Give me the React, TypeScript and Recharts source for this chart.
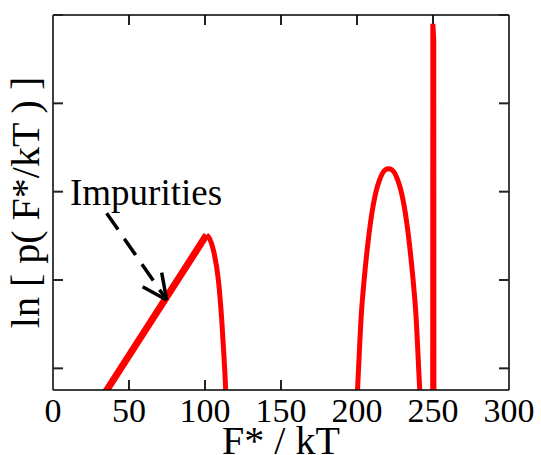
import React from 'react';
import { LineChart, Line, XAxis, YAxis, ReferenceLine, Label } from 'recharts';

// Ascending "impurities" branch (straight)
const impurityX = [33, 101];
const impurityY = [-0.31, 1.51];

// First peak, falling side
const fallX = [101, 103, 105.5, 108.8, 111, 112.5, 113.6, 114.3];
const fallY = [1.51, 1.47, 1.34, 1.0, 0.55, 0.13, -0.245, -0.6];

// Second peak
const peak2X = [199.3, 200.8, 202.8, 204.8, 206.8, 208.8, 210.8, 212.8, 214.8, 216.8, 218.8, 220.8, 222.8, 224.8, 226.8, 228.8, 230.8, 232.8, 234.8, 236.8, 238.8, 240.8, 242.3];
const peak2Y = [-0.6, -0.08, 0.6, 1.02, 1.36, 1.64, 1.86, 2.02, 2.13, 2.21, 2.25, 2.26, 2.25, 2.21, 2.13, 2.02, 1.86, 1.64, 1.36, 1.02, 0.6, -0.08, -0.6];

// Narrow spike near 250
const spikeX = [249.8, 249.9, 250.5, 250.6];
const spikeY = [-0.6, 3.9, 3.72, -0.6];

// Tick values
const xTicks = [0, 50, 100, 150, 200, 250, 300];
const yTicks = [0, 1, 2, 3, 4];

// Annotation arrow (data coordinates)
const arrowStart = { x: 35.3, y: 1.757 };
const arrowTip = { x: 74.8, y: 0.774 };
const arrowArm1 = { x: 59.0, y: 0.924 };
const arrowArm2 = { x: 71.5, y: 1.083 };

const zip = (xs: number[], ys: number[]) => xs.map((x, i) => ({ x, y: ys[i] }));

const impurity = zip(impurityX, impurityY);
const fall = zip(fallX, fallY);
const peak2 = zip(peak2X, peak2Y);
const spike = zip(spikeX, spikeY);

const FONT = '"Liberation Serif", "Times New Roman", serif';
const X_DOMAIN: [number, number] = [0, 300];
const Y_DOMAIN: [number, number] = [-0.245, 4];
const FRAME = { stroke: '#000', strokeWidth: 1.5 };
const TICKLINE = { stroke: '#222', strokeWidth: 2 };
const TICK_LEN = 0.113; // inward tick length in y-axis units (~10px)
const NoLabel = () => <g />;

// short vertical tick segments for the x axis (bottom and top), built from xTicks
const innerTicks = xTicks.filter((t) => t > X_DOMAIN[0] && t < X_DOMAIN[1]);
const bottomTickData = innerTicks.map((t) => [
  { x: t, y: Y_DOMAIN[0] },
  { x: t, y: Y_DOMAIN[0] + TICK_LEN },
]);
const topTickData = innerTicks.map((t) => [
  { x: t, y: Y_DOMAIN[1] - TICK_LEN },
  { x: t, y: Y_DOMAIN[1] },
]);

export default function App() {
  return (
    <div style={{ position: 'absolute', left: 0, top: 0 }}>
      <LineChart width={541} height={455} margin={{ top: 15, right: 32, bottom: 0, left: 0 }}>
        {/* bottom axis: labels + frame */}
        <XAxis
          xAxisId="b"
          type="number"
          dataKey="x"
          domain={X_DOMAIN}
          allowDataOverflow
          ticks={xTicks}
          interval={0}
          height={65}
          tickSize={0}
          tickMargin={8}
          axisLine={FRAME}
          tickLine={false}
          tick={{ fontSize: 34, fill: '#000', fontFamily: FONT }}
        >
          <Label value="F* / kT" position="insideBottom" offset={1} fontSize={40} fill="#000" fontFamily={FONT} />
        </XAxis>
        {/* top axis: frame */}
        <XAxis
          xAxisId="t"
          orientation="top"
          type="number"
          dataKey="x"
          domain={X_DOMAIN}
          allowDataOverflow
          ticks={xTicks}
          interval={0}
          mirror
          tick={NoLabel}
          axisLine={FRAME}
          tickLine={false}
        />
        {/* left axis: frame + title */}
        <YAxis
          yAxisId="l"
          type="number"
          domain={Y_DOMAIN}
          allowDataOverflow
          ticks={yTicks}
          interval={0}
          width={53}
          tickSize={0}
          tick={NoLabel}
          tickLine={false}
          axisLine={FRAME}
        >
          <Label
            value="ln [ p( F*/kT ) ]"
            angle={-90}
            position="insideLeft"
            offset={25}
            fontSize={40}
            fill="#000"
            fontFamily={FONT}
            style={{ textAnchor: 'middle' }}
          />
        </YAxis>
        {/* left axis: inward ticks */}
        <YAxis
          yAxisId="l2"
          type="number"
          domain={Y_DOMAIN}
          allowDataOverflow
          ticks={yTicks}
          interval={0}
          mirror
          tickSize={10}
          tick={NoLabel}
          axisLine={false}
          tickLine={TICKLINE}
        />
        {/* right axis: frame + inward ticks */}
        <YAxis
          yAxisId="r"
          orientation="right"
          type="number"
          domain={Y_DOMAIN}
          allowDataOverflow
          ticks={yTicks}
          interval={0}
          mirror
          tickSize={10}
          tick={NoLabel}
          axisLine={FRAME}
          tickLine={TICKLINE}
        />

        <Line data={impurity} xAxisId="t" yAxisId="r" dataKey="y" type="linear" stroke="none" dot={false} activeDot={false} isAnimationActive={false} legendType="none" />

        {/* inward x tick marks drawn as tiny series */}
        {bottomTickData.map((d, i) => (
          <Line key={`tb${i}`} data={d} xAxisId="b" yAxisId="l" dataKey="y" type="linear" stroke={TICKLINE.stroke} strokeWidth={TICKLINE.strokeWidth} dot={false} activeDot={false} isAnimationActive={false} legendType="none" />
        ))}
        {topTickData.map((d, i) => (
          <Line key={`tt${i}`} data={d} xAxisId="b" yAxisId="l" dataKey="y" type="linear" stroke={TICKLINE.stroke} strokeWidth={TICKLINE.strokeWidth} dot={false} activeDot={false} isAnimationActive={false} legendType="none" />
        ))}

        <Line data={impurity} xAxisId="b" yAxisId="l" dataKey="y" type="linear" stroke="#ff0000" strokeWidth={7} dot={false} isAnimationActive={false} />
        <Line data={fall} xAxisId="b" yAxisId="l" dataKey="y" type="monotone" stroke="#ff0000" strokeWidth={5} strokeLinejoin="round" dot={false} isAnimationActive={false} />
        <Line data={peak2} xAxisId="b" yAxisId="l" dataKey="y" type="monotone" stroke="#ff0000" strokeWidth={5} strokeLinejoin="round" dot={false} isAnimationActive={false} />
        <Line data={spike} xAxisId="b" yAxisId="l" dataKey="y" type="linear" stroke="#ff0000" strokeWidth={5} dot={false} isAnimationActive={false} />

        <ReferenceLine xAxisId="b" yAxisId="l" segment={[arrowStart, arrowTip]} stroke="#000" strokeWidth={3.5} strokeDasharray="20 11" ifOverflow="visible" />
        <ReferenceLine xAxisId="b" yAxisId="l" segment={[arrowArm1, arrowTip]} stroke="#000" strokeWidth={3.5} ifOverflow="visible" />
        <ReferenceLine xAxisId="b" yAxisId="l" segment={[arrowArm2, arrowTip]} stroke="#000" strokeWidth={3.5} ifOverflow="visible" />

        <text x={70} y={205} fontSize={37} fill="#000" fontFamily={FONT}>Impurities</text>
      </LineChart>
    </div>
  );
}
